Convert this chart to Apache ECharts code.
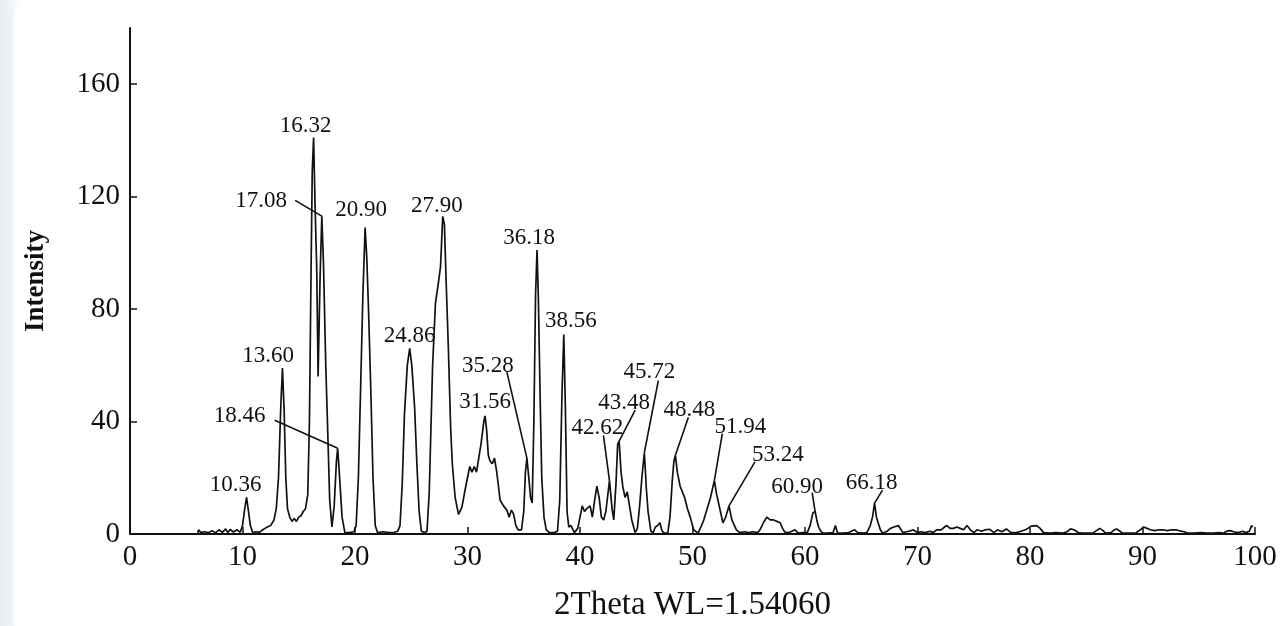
<!DOCTYPE html>
<html>
<head>
<meta charset="utf-8">
<script src="https://cdn.jsdelivr.net/npm/echarts@6/dist/echarts.min.js"></script>
<style>
  html, body { margin: 0; padding: 0; width: 1284px; height: 626px; overflow: hidden;
    background: linear-gradient(90deg, #e3edf2 0px, #f3f7f9 14px, #ffffff 22px); }
  #xrd { position: absolute; left: 14px; top: 10px; width: 1270px; height: 616px; background: #fff; }
</style>
</head>
<body>
<div id="xrd"></div>
<script>
  // diffraction pattern
  var twoTheta = [
    6.0, 6.1, 6.3, 6.6, 7.0, 7.3, 7.6, 7.9, 8.2, 8.5, 8.7, 8.9, 9.2, 9.5, 9.8,
    10.0, 10.2, 10.36, 10.5, 10.7, 10.9, 11.2, 11.5, 11.8, 12.0, 12.2, 12.5, 12.8, 13.0, 13.2,
    13.4, 13.55, 13.7, 13.85, 14.0, 14.2, 14.4, 14.6, 14.8, 15.0, 15.2, 15.4, 15.6, 15.8, 15.95,
    16.1, 16.2, 16.32, 16.45, 16.6, 16.72, 16.9, 17.05, 17.2, 17.4, 17.55, 17.75, 17.95, 18.15, 18.35,
    18.46, 18.6, 18.85, 19.1, 19.5, 19.9, 20.1, 20.3, 20.5, 20.7, 20.9, 21.05, 21.2, 21.4, 21.6,
    21.8, 22.0, 22.5, 23.0, 23.5, 23.8, 24.0, 24.2, 24.4, 24.65, 24.86, 25.05, 25.3, 25.5, 25.7,
    25.9, 26.2, 26.4, 26.6, 26.9, 27.15, 27.4, 27.6, 27.8, 27.95, 28.1, 28.3, 28.5, 28.65, 28.9,
    29.2, 29.5, 29.8, 30.0, 30.2, 30.4, 30.6, 30.8, 31.0, 31.2, 31.45, 31.56, 31.7, 31.85, 32.0,
    32.2, 32.4, 32.6, 32.9, 33.2, 33.5, 33.7, 33.9, 34.1, 34.3, 34.5, 34.8, 35.0, 35.15, 35.28,
    35.45, 35.6, 35.75, 35.9, 36.05, 36.18, 36.3, 36.45, 36.6, 36.8, 37.0, 37.3, 37.7, 38.0, 38.2,
    38.4, 38.56, 38.7, 38.85, 39.0, 39.2, 39.5, 39.8, 40.0, 40.2, 40.4, 40.6, 40.9, 41.1, 41.3,
    41.5, 41.7, 41.9, 42.1, 42.3, 42.62, 42.85, 43.0, 43.2, 43.35, 43.48, 43.65, 43.8, 44.0, 44.2,
    44.4, 44.6, 44.9, 45.1, 45.3, 45.5, 45.72, 45.9, 46.05, 46.3, 46.5, 46.7, 46.9, 47.1, 47.3,
    47.5, 47.8, 48.0, 48.2, 48.35, 48.48, 48.65, 48.9, 49.1, 49.3, 49.55, 49.8, 50.1, 50.5, 50.8,
    51.0, 51.3, 51.6, 51.94, 52.15, 52.4, 52.7, 52.95, 53.24, 53.5, 53.9, 54.2, 54.6, 55.0, 55.4,
    55.8, 56.0, 56.3, 56.6, 56.9, 57.2, 57.5, 57.8, 58.0, 58.2, 58.6, 59.1, 59.4, 59.8, 60.2,
    60.45, 60.7, 60.9, 61.05, 61.2, 61.4, 61.6, 62.0, 62.5, 62.7, 62.9, 63.4, 63.9, 64.4, 64.7,
    65.2, 65.5, 65.8, 66.0, 66.18, 66.35, 66.5, 66.7, 66.9, 67.3, 67.6, 67.9, 68.3, 68.7, 69.0,
    69.3, 69.6, 70.0, 70.3, 70.7, 71.1, 71.4, 71.7, 72.1, 72.4, 72.6, 72.9, 73.2, 73.5, 73.8,
    74.1, 74.4, 74.7, 75.0, 75.3, 75.7, 76.0, 76.4, 76.8, 77.1, 77.5, 77.9, 78.3, 78.8, 79.2,
    79.6, 79.8, 80.1, 80.6, 80.9, 81.2, 81.8, 82.3, 82.9, 83.3, 83.6, 83.9, 84.3, 84.6, 85.1,
    85.6, 85.9, 86.2, 86.5, 86.7, 87.2, 87.5, 87.7, 88.0, 88.2, 88.8, 89.4, 89.8, 90.1, 90.4,
    90.7, 91.1, 91.5, 91.8, 92.2, 92.6, 93.0, 93.4, 93.7, 94.0, 94.6, 95.2, 95.7, 96.3, 96.8,
    97.2, 97.5, 97.8, 98.1, 98.5, 98.9, 99.2, 99.5, 99.7, 99.8
  ];
  var intensity = [
    0, 1.5, 0.5, 0.8, 0.5, 1.2, 0.4, 1.5, 0.6, 1.8, 0.5, 1.6, 0.7, 1.5, 0.6,
    3, 9, 13, 9, 3, 0.5, 0.8, 0.6, 1.5, 2, 2.5, 3, 5, 9, 20,
    45, 59, 44, 20, 9, 6, 4.5, 5.5, 4.5, 6, 6.5, 8, 9, 14, 40,
    96, 129, 141, 117, 94, 56, 92, 113, 96, 60, 40, 12, 2.5, 10, 26,
    30.5, 22, 6, 0.5, 0.5, 0.8, 3, 20, 52, 85, 109, 98, 80, 52, 20,
    3, 0.5, 0.8, 0.5, 0.6, 1, 3, 18, 43, 60, 66, 60, 45, 25, 8,
    1, 0.5, 1, 15, 60, 82, 89, 95, 113, 110, 90, 66, 38, 25, 13,
    7, 9.5, 16, 20, 24, 22, 24, 22, 27, 32, 40, 42, 37, 28, 26,
    25, 27, 22, 12, 10, 8.5, 6, 8.5, 7, 3, 1.5, 1.5, 8, 22, 27,
    20, 13, 11, 40, 85, 101, 84, 50, 20, 6, 1.5, 0.5, 0.5, 1, 12,
    50, 71, 45, 8, 2.5, 3, 0.5, 2, 6, 10, 8, 9, 10, 6, 12,
    17, 13, 6, 5, 8, 19, 9, 5, 18, 32, 33, 22, 17, 13, 15,
    10, 5, 0.5, 2, 10, 20, 29, 16, 8, 1, 0.5, 2.5, 3, 4, 1,
    0.3, 0.3, 6, 19, 26, 28, 22, 17, 15, 13, 9, 6, 1.5, 0.3, 3,
    5, 9, 13, 19, 14, 9.5, 4, 6, 10, 5, 1.5, 0.5, 0.8, 0.5, 0.8,
    0.5, 1.5, 4, 6, 5, 5, 4.5, 4, 2, 0.7, 0.5, 1.5, 0.3, 0.5, 0.5,
    3, 7.5, 8, 5, 2.5, 1, 0.3, 0.3, 0.5, 3, 0.3, 0.3, 0.5, 1.5, 0.5,
    0.3, 0.5, 3, 6, 11, 6, 4, 1.5, 0.3, 1, 2, 2.5, 3, 0.5, 0.8,
    1, 1.5, 0.5, 0.8, 0.5, 1, 0.5, 1.5, 1.5, 2.5, 3, 2, 2, 2.5, 2,
    1.5, 3, 1.5, 0.5, 1.5, 1, 1.5, 1.7, 0.5, 1.5, 0.8, 1.8, 0.5, 0.5, 1,
    1.5, 2, 2.8, 3, 2, 0.5, 0.3, 0.5, 0.3, 0.8, 1.8, 1.5, 0.5, 0.3, 0.3,
    0.3, 1.2, 2, 1.2, 0.3, 0.5, 1.5, 1.8, 1, 0.3, 0.3, 0.3, 1.5, 2.5, 2,
    1.5, 1.2, 1.5, 1.5, 1.2, 1.5, 1.5, 1, 0.8, 0.3, 0.3, 0.5, 0.3, 0.3, 0.5,
    0.3, 1, 1.2, 0.8, 0.5, 1, 0.5, 1, 3, 2.5
  ];

  // labelled peaks
  var peakPos = [10.36, 13.60, 16.32, 17.08, 18.46, 20.90, 24.86, 27.90, 31.56, 35.28,
                 36.18, 38.56, 42.62, 43.48, 45.72, 48.48, 51.94, 53.24, 60.90, 66.18];
  var peakInt = [13, 59, 141, 113, 30.5, 109, 66, 113, 42, 27,
                 101, 71, 19, 33, 29, 28, 19, 10, 8, 11];

  // label placement (px from the peak) and leader line start (px from the peak, null = none)
  var labelOffset = [[-11, -13], [-15, -12], [-8, -12], [-61, -15], [-98, -32], [-4, -18], [0, -13], [-7, -10], [0, -14], [-39, -92],
                     [-8, -12], [7, -13], [-12, -53], [5, -38], [5, -81], [14, -45], [26, -54], [49, -51], [-18, -25], [-3, -20]];
  var leaderFrom = [null, null, null, [-27, -16], [-63, -28], null, null, null, null, [-20, -86],
                    null, null, [-6, -45], [16, -31], [14, -72], [13, -38], [8, -47], [26, -44], [-3, -19], [8, -13]];

  var serif = "'Liberation Serif', 'Times New Roman', serif";
  var ink = '#111';

  var series = [];
  for (var i = 0; i < twoTheta.length; i++) series.push([twoTheta[i], intensity[i]]);

  var myChart = echarts.init(document.getElementById('xrd'));
  myChart.setOption({
    animation: false,
    grid: { left: 116, right: 29, top: 18, bottom: 92, show: false, containLabel: false, outerBoundsMode: 'none' },
    xAxis: {
      type: 'value',
      min: 0, max: 100, interval: 10,
      name: '2Theta WL=1.54060',
      nameLocation: 'middle',
      nameGap: 55,
      nameTextStyle: { fontFamily: serif, fontSize: 33, color: ink },
      axisLine: { show: true, onZero: false, lineStyle: { color: ink, width: 2 } },
      axisTick: { show: true, inside: true, length: 7, lineStyle: { color: ink, width: 1.5 } },
      axisLabel: { fontFamily: serif, fontSize: 29, color: ink, margin: 9 },
      splitLine: { show: false }
    },
    yAxis: {
      type: 'value',
      min: 0, max: 180, interval: 40,
      name: 'Intensity',
      nameLocation: 'middle',
      nameGap: 80,
      nameTextStyle: { fontFamily: serif, fontSize: 27, fontWeight: 'bold', color: ink },
      axisLine: { show: true, onZero: false, lineStyle: { color: ink, width: 2 } },
      axisTick: { show: true, inside: true, length: 7, lineStyle: { color: ink, width: 1.5 } },
      axisLabel: { fontFamily: serif, fontSize: 29, color: ink, margin: 10, showMaxLabel: false },
      splitLine: { show: false }
    },
    series: [{
      name: 'XRD',
      type: 'line',
      data: series,
      showSymbol: false,
      lineStyle: { color: ink, width: 1.7 },
      z: 3
    }]
  });

  // peak labels and leader lines, placed from the axis scales
  var marks = [];
  peakPos.forEach(function (x, k) {
    var p = myChart.convertToPixel({ gridIndex: 0 }, [x, peakInt[k]]);
    var off = labelOffset[k];
    marks.push({
      type: 'text',
      x: p[0] + off[0], y: p[1] + off[1],
      z: 10,
      style: {
        text: x.toFixed(2),
        font: '23px ' + serif,
        fill: ink,
        align: 'center',
        verticalAlign: 'middle'
      }
    });
    var lf = leaderFrom[k];
    if (lf) {
      marks.push({
        type: 'line',
        z: 10,
        shape: { x1: p[0] + lf[0], y1: p[1] + lf[1], x2: p[0], y2: p[1] },
        style: { stroke: ink, lineWidth: 1.6 }
      });
    }
  });
  myChart.setOption({ graphic: marks });
</script>
</body>
</html>
